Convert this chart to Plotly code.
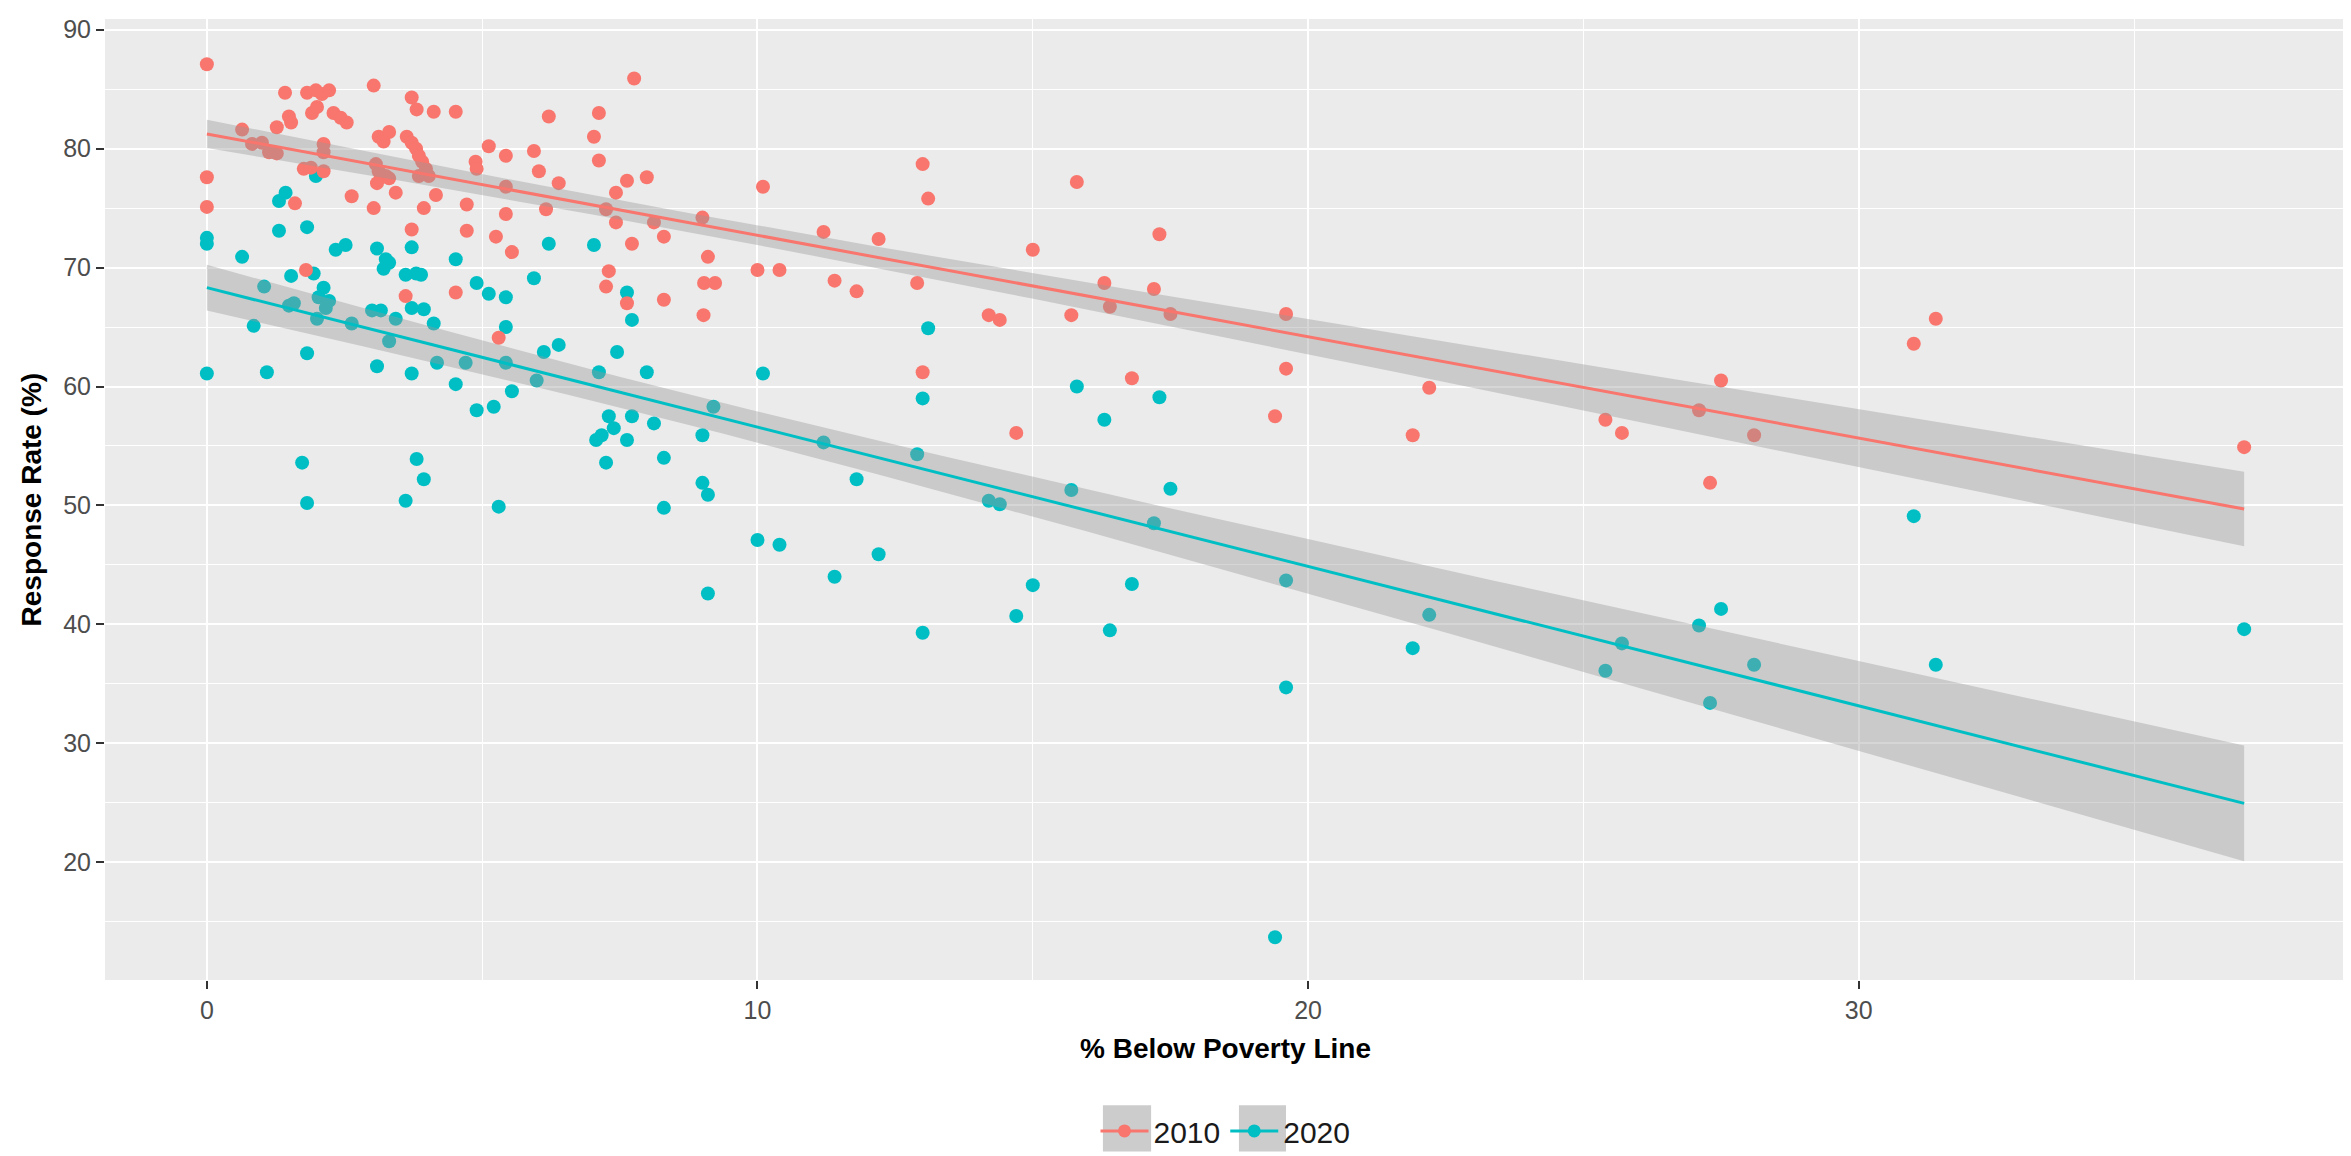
import numpy as np
import plotly.graph_objects as go

# ---------------- data ----------------
years = ["2010", "2020"]
colors = {"2010": "#F8766D", "2020": "#00BFC4"}

x_2010 = [0.0, 0.0, 0.0, 1.42, 1.82, 1.98, 2.09, 2.22, 1.91, 2.0, 2.3, 2.43, 2.54, 3.03,
          3.72, 3.81, 4.12, 4.52, 6.21, 7.12, 7.76, 7.03, 0.64, 1.27, 1.53, 1.49, 0.82,
          1.0, 1.13, 1.27, 2.12, 2.12, 1.76, 1.89, 2.12, 3.12, 3.31, 3.21, 3.63, 3.72, 3.80,
          3.85, 3.91, 3.98, 3.85, 4.03, 3.07, 3.12, 3.25, 3.09, 3.31, 3.43, 2.63, 1.6,
          3.03, 4.16, 3.94, 3.72, 4.72, 4.72, 4.88, 4.9, 5.12, 5.43, 5.94, 6.03, 6.39,
          5.43, 5.43, 6.16, 5.25, 5.54, 7.12, 7.25, 7.43, 7.63, 7.99, 7.43, 8.12, 7.72,
          7.30, 7.25, 7.63, 1.8, 3.61, 4.52, 5.30, 8.3, 8.3, 9.0, 9.1, 9.03, 9.23, 9.02,
          10.1, 10.0, 10.4, 11.2, 11.4, 11.8, 12.2, 12.9, 13.0, 13.1, 13.0, 14.2, 14.4,
          14.7, 15.0, 15.8, 15.7, 16.3, 16.4, 16.8, 17.3, 17.2, 17.5, 19.6, 19.6, 19.4,
          22.2, 21.9, 25.4, 25.7, 27.5, 27.1, 27.3, 28.1, 31.4, 31.0, 37.0]
y_2010 = [87.1, 77.6, 75.1, 84.7, 84.7, 84.9, 84.6, 84.9, 83.0, 83.5, 83.0, 82.6, 82.2, 85.3,
          84.3, 83.3, 83.1, 83.1, 82.7, 83.0, 85.9, 81.0, 81.6, 81.8, 82.2, 82.7, 80.4,
          80.5, 79.7, 79.6, 80.4, 79.7, 78.3, 78.4, 78.1, 81.0, 81.4, 80.6, 81.0, 80.5, 80.0,
          79.4, 78.9, 78.3, 77.7, 77.7, 78.7, 78.1, 77.7, 77.1, 77.5, 76.3, 76.0, 75.4,
          75.0, 76.1, 75.0, 73.2, 75.3, 73.1, 78.9, 78.3, 80.2, 79.4, 79.8, 78.1, 77.1,
          76.8, 74.5, 74.9, 72.6, 71.3, 79.0, 74.9, 76.3, 77.3, 77.6, 73.8, 73.8, 72.0,
          69.7, 68.4, 67.0, 69.8, 67.6, 67.9, 64.1, 72.6, 67.3, 74.2, 70.9, 68.7, 68.7, 66.0,
          76.8, 69.8, 69.8, 73.0, 68.9, 68.0, 72.4, 68.7, 78.7, 75.8, 61.2, 66.0, 65.6,
          56.1, 71.5, 77.2, 66.0, 68.7, 66.7, 60.7, 72.8, 68.2, 66.1, 66.1, 61.5, 57.5,
          59.9, 55.9, 57.2, 56.1, 60.5, 58.0, 51.9, 55.9, 65.7, 63.6, 54.9]

x_2020 = [0.0, 0.0, 0.0, 0.64, 1.31, 1.43, 1.98, 1.31, 1.82, 2.34, 2.52, 3.09, 3.25, 3.31,
          3.21, 3.72, 3.61, 3.80, 3.89, 4.52, 6.21, 7.03, 4.9, 5.12, 5.43, 5.94, 7.63, 7.72,
          5.43, 6.39, 6.12, 7.45, 1.04, 1.53, 1.94, 2.12, 2.03, 2.22, 2.16, 1.49, 1.58, 2.0,
          2.63, 3.0, 3.16, 3.43, 3.31, 3.72, 3.94, 4.12, 0.85, 1.82, 1.09, 3.09, 3.72, 4.18,
          4.52, 4.7, 4.9, 5.21, 5.54, 5.43, 5.99, 7.12, 7.99, 7.30, 7.72, 7.39, 7.17, 7.07,
          7.63, 7.25, 8.12, 1.73, 1.82, 3.81, 3.94, 3.61, 5.30, 8.3, 8.3, 9.0, 9.2, 9.0, 9.1,
          9.1, 10.1, 10.0, 10.4, 11.2, 11.8, 11.4, 12.2, 12.9, 13.1, 13.0, 13.0, 14.2, 14.4,
          14.7, 15.0, 15.7, 15.8, 16.3, 16.4, 16.8, 17.3, 17.2, 17.5, 19.6, 19.6, 19.4, 22.2,
          21.9, 25.4, 25.7, 27.1, 27.5, 28.1, 27.3, 31.0, 31.4, 37.0]
y_2020 = [72.5, 72.0, 61.1, 70.9, 75.6, 76.3, 77.7, 73.1, 73.4, 71.5, 71.9, 71.6, 70.7, 70.4,
          69.9, 71.7, 69.4, 69.5, 69.4, 70.7, 72.0, 71.9, 68.7, 67.8, 67.5, 69.1, 67.9, 65.6,
          65.0, 63.5, 62.9, 62.9, 68.4, 69.3, 69.5, 68.3, 67.5, 67.2, 66.6, 66.8, 67.0, 65.7,
          65.3, 66.4, 66.4, 65.7, 63.8, 66.6, 66.5, 65.3, 65.1, 62.8, 61.2, 61.7, 61.1, 62.0,
          60.2, 62.0, 58.0, 58.3, 59.6, 62.0, 60.5, 61.2, 61.2, 57.5, 57.5, 56.5, 55.9, 55.5,
          55.5, 53.6, 56.9, 53.6, 50.2, 53.9, 52.2, 50.4, 49.9, 49.8, 54.0, 55.9, 58.3, 51.9, 50.9,
          42.6, 61.1, 47.1, 46.7, 55.3, 52.2, 44.0, 45.9, 54.3, 64.9, 59.0, 39.3, 50.4, 50.1,
          40.7, 43.3, 51.3, 60.0, 57.2, 39.5, 43.4, 59.1, 48.5, 51.4, 43.7, 34.7, 13.7, 40.8,
          38.0, 36.1, 38.4, 39.9, 41.3, 36.6, 33.4, 49.1, 36.6, 39.6]

x_ticks = [0, 10, 20, 30]
y_ticks = [20, 30, 40, 50, 60, 70, 80, 90]

data = {"2010": (x_2010, y_2010), "2020": (x_2020, y_2020)}


def lm_smooth(x, y, n=80, t=1.98):
    x = np.asarray(x, float)
    y = np.asarray(y, float)
    b1, b0 = np.polyfit(x, y, 1)
    xs = np.linspace(x.min(), x.max(), n)
    yh = b0 + b1 * xs
    resid = y - (b0 + b1 * x)
    s = np.sqrt(np.sum(resid ** 2) / (len(x) - 2))
    sxx = np.sum((x - x.mean()) ** 2)
    se = s * np.sqrt(1.0 / len(x) + (xs - x.mean()) ** 2 / sxx)
    return xs, yh, yh - t * se, yh + t * se


fig = go.Figure()

# points (2020 first, 2010 drawn on top)
for yr in ["2020", "2010"]:
    xv, yv = data[yr]
    fig.add_trace(go.Scatter(
        x=xv, y=yv, mode="markers", name=yr, showlegend=False,
        marker=dict(color=colors[yr], size=14, line=dict(width=0)),
    ))

# smooths (band + line), drawn above the points like geom_smooth
for yr in years:
    xv, yv = data[yr]
    xs, yh, lo, hi = lm_smooth(xv, yv)
    fig.add_trace(go.Scatter(
        x=np.concatenate([xs, xs[::-1]]), y=np.concatenate([hi, lo[::-1]]),
        fill="toself", fillcolor="rgba(153,153,153,0.4)", line=dict(width=0),
        mode="lines", showlegend=False, hoverinfo="skip",
    ))
    fig.add_trace(go.Scatter(
        x=xs, y=yh, mode="lines", showlegend=False,
        line=dict(color=colors[yr], width=3),
    ))

# legend entries
for yr in years:
    fig.add_trace(go.Scatter(
        x=[None], y=[None], mode="lines+markers", name=yr,
        line=dict(color=colors[yr], width=3),
        marker=dict(color=colors[yr], size=13),
    ))

axis_common = dict(
    showgrid=True, gridcolor="white", gridwidth=2.3,
    zeroline=False, showline=False,
    ticks="outside", ticklen=8, tickwidth=2, tickcolor="#333333",
    tickfont=dict(family="Liberation Sans, Arial, sans-serif", size=25, color="#4D4D4D"),
    minor=dict(showgrid=True, gridcolor="white", gridwidth=1.2, ticks=""),
)

# gray legend key backgrounds (ggplot-style keys)
key_boxes = [(0.4453, 0.4668), (0.5060, 0.5270)]
shapes = [dict(type="rect", xref="paper", yref="paper", x0=a, x1=b, y0=-0.1785, y1=-0.1303,
               fillcolor="#CCCCCC", line=dict(width=0), layer="below")
          for a, b in key_boxes]

fig.update_layout(
    width=2351, height=1156,
    margin=dict(l=97, r=13, t=7, b=174),
    paper_bgcolor="white", plot_bgcolor="#EBEBEB",
    font=dict(family="Liberation Sans, Arial, sans-serif", color="black"),
    xaxis=dict(range=[-1.85, 38.85], tickvals=x_ticks, **axis_common),
    yaxis=dict(range=[10.1, 90.9], tickvals=y_ticks, **axis_common),
    showlegend=True,
    legend=dict(orientation="h", x=0.5, xanchor="center", y=-0.157, yanchor="middle",
                font=dict(size=30, color="#1A1A1A"), itemwidth=48,
                bgcolor="rgba(0,0,0,0)"),
    shapes=shapes,
    annotations=[
        dict(text="<b>% Below Poverty Line</b>", xref="paper", yref="paper",
             x=0.5, y=-0.0718, xanchor="center", yanchor="middle", showarrow=False,
             font=dict(size=28, color="black")),
        dict(text="<b>Response Rate (%)</b>", xref="paper", yref="paper",
             x=-0.0326, y=0.5, xanchor="center", yanchor="middle", showarrow=False,
             textangle=-90, font=dict(size=28, color="black")),
    ],
)
fig.update_xaxes(minor=dict(dtick=5, tick0=0))
fig.update_yaxes(minor=dict(dtick=5, tick0=0))

fig.write_html("out.html")
